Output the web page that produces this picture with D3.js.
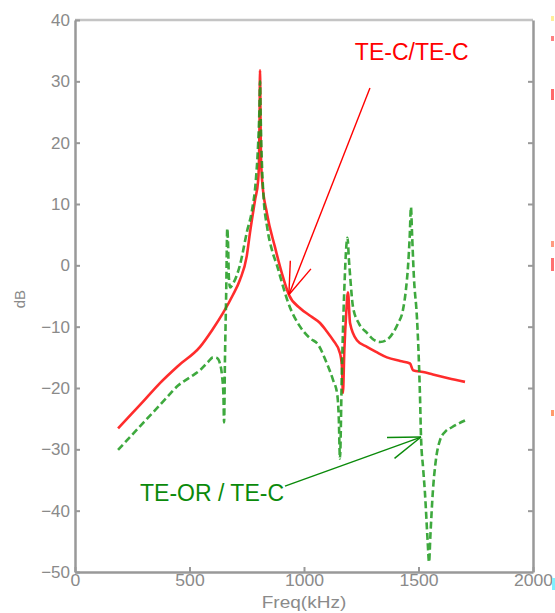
<!DOCTYPE html>
<html>
<head>
<meta charset="utf-8">
<script src="https://cdn.jsdelivr.net/npm/d3@7"></script>
<style>
  html, body { margin: 0; padding: 0; background: #fff; }
  svg { display: block; }
  text { font-family: "Liberation Sans", Arial, sans-serif; }
</style>
</head>
<body>
<svg id="chart" width="555" height="613"></svg>
<script>
// ---------- data ----------
const xTicks = [0, 500, 1000, 1500, 2000];
const yTicks = [-50, -40, -30, -20, -10, 0, 10, 20, 30, 40];

// TE-C/TE-C (red, solid)
const redFreq = [188, 250, 300, 371, 450, 546, 600, 646, 690, 720, 750, 764, 786, 800, 804, 806, 808, 810, 812, 817, 838, 873, 905, 934, 983, 1030, 1070, 1100, 1127, 1157, 1166, 1170, 1176, 1184, 1192, 1201, 1231, 1275, 1319, 1362, 1420, 1463, 1476, 1520, 1563, 1630, 1703];
const redDb   = [-26.6, -24.1, -22.1, -19.2, -16.4, -13.3, -10.5, -7.8, -4.8, -2.4, 1.5, 5.3, 10.6, 13.9, 18, 24, 31.8, 24, 18, 13.9, 8.5, 3, -1.5, -4.8, -7, -8.3, -9.4, -10.8, -12.2, -14.3, -16.6, -20.8, -14, -8, -4.4, -9.4, -12.2, -13.3, -14.2, -15, -15.6, -16, -17.1, -17.4, -17.8, -18.4, -19];

// TE-OR / TE-C (green, dashed)
const greenFreq = [188, 250, 300, 350, 402, 450, 500, 546, 580, 603, 620, 633, 642, 648, 651, 655, 660, 665, 668, 672, 677, 690, 720, 751, 773, 790, 800, 805, 808, 811, 815, 822, 840, 860, 882, 905, 930, 983, 1030, 1057, 1100, 1127, 1145, 1152, 1157, 1165, 1175, 1190, 1196, 1202, 1214, 1240, 1275, 1300, 1332, 1360, 1389, 1410, 1432, 1445, 1454, 1462, 1467, 1472, 1480, 1493, 1500, 1507, 1511, 1520, 1528, 1540, 1546, 1552, 1563, 1575, 1594, 1620, 1646, 1675, 1703];
const greenDb   = [-30.1, -27.6, -25.6, -23.6, -21.5, -19.6, -18.3, -17.1, -15.8, -15, -15.1, -16, -18, -21, -25.6, -15, -5, 6, 4, -2, -3.6, -3, 0, 5.5, 9, 14, 20, 25, 30, 24, 18, 12, 6, 2.5, 0, -3, -6, -10, -12, -12.7, -16, -18.7, -21, -25, -31.5, -18, -5, 4.5, 1, -2, -6.8, -9.5, -11, -12, -12.5, -12.2, -11, -9.5, -7.3, -4, -0.3, 5, 9.5, 5, -2, -8.4, -14, -22, -28, -33, -37, -45, -48.4, -44, -36.7, -32, -28.5, -27, -26.4, -25.8, -25.3];

// annotations
const annLabels = ["TE-C/TE-C", "TE-OR / TE-C"];
const annText   = [[1222, 33.5], [284, -38.4]];
const annFrom   = [[1288, 28.9], [917, -36]];
const annTo     = [[934, -4.8], [1511, -28]];
const annColors = ["#ff0000", "#0a8a0a"];

// ---------- chart ----------
const svg = d3.select("#chart");
const margin = {left: 75, right: 22, top: 20, bottom: 41};
const W = 555, H = 613;
const x = d3.scaleLinear().domain([0, 2000]).range([margin.left, W - margin.right]);
const y = d3.scaleLinear().domain([-50, 40]).range([H - margin.bottom, margin.top]);

const axisColor = "#999";
const labelColor = "#8a8a8a";

// top frame line
svg.append("line").attr("x1", x(0)).attr("x2", x(2000)).attr("y1", y(40)).attr("y2", y(40))
  .attr("stroke", "#c4c4c4").attr("stroke-width", 2.5);

const fmt = d3.format("d");
// left axis
const gy = svg.append("g").attr("transform", `translate(${x(0)},0)`)
  .call(d3.axisLeft(y).tickValues(yTicks).tickFormat(fmt).tickSize(-5).tickSizeOuter(0).tickPadding(4));
// right axis (ticks only)
const gy2 = svg.append("g").attr("transform", `translate(${x(2000)},0)`)
  .call(d3.axisRight(y).tickValues(yTicks.filter(d => d > -50 && d < 40)).tickSize(-5).tickSizeOuter(0).tickFormat(""));
// bottom axis
const gx = svg.append("g").attr("transform", `translate(0,${y(-50)})`)
  .call(d3.axisBottom(x).tickValues(xTicks).tickFormat(fmt).tickSize(-5).tickSizeOuter(0).tickPadding(4));

[gy, gy2, gx].forEach(g => {
  g.select(".domain").attr("stroke", axisColor).attr("stroke-width", 2.5);
  g.selectAll(".tick line").attr("stroke", axisColor).attr("stroke-width", 2);
  g.selectAll(".tick text").attr("fill", labelColor)
    .style("font-size", "16px").style("font-family", "'Liberation Sans', Arial, sans-serif");
});
gy.selectAll(".tick text").attr("dx", "-1").style("font-size", "17px");
gx.selectAll(".tick text").attr("dy", "0.6em")
  .attr("transform", function() { return "scale(1.1,1)"; });

// axis titles
svg.append("text").attr("x", x(1000)).attr("y", 608).attr("text-anchor", "middle")
  .attr("fill", labelColor).style("font-size", "17px").text("Freq(kHz)")
  .attr("transform", `translate(${x(1000)},0) scale(1.12,1) translate(${-x(1000)},0)`);
svg.append("text").attr("transform", `translate(25,${y(-5.5)}) rotate(-90)`)
  .attr("text-anchor", "middle").attr("fill", labelColor).style("font-size", "15px").text("dB");

// curves
const line = d3.line().x(d => x(d[0])).y(d => y(d[1])).curve(d3.curveMonotoneX);
const redPts = redFreq.map((f, i) => [f, redDb[i]]);
const greenPts = greenFreq.map((f, i) => [f, greenDb[i]]);

svg.append("path").datum(redPts).attr("d", line)
  .attr("fill", "none").attr("stroke", "#ff1a1a").attr("stroke-width", 2.6)
  .attr("stroke-linejoin", "round").attr("opacity", 0.92);
svg.append("path").datum(greenPts).attr("d", line)
  .attr("fill", "none").attr("stroke", "#1c9a1c").attr("stroke-width", 2.6)
  .attr("stroke-dasharray", "7,3.5").attr("opacity", 0.85);

// annotations
annLabels.forEach((lab, i) => {
  const c = annColors[i];
  svg.append("text").attr("x", x(annText[i][0])).attr("y", y(annText[i][1]))
    .attr("fill", c).style("font-size", "23px").text(lab);
  const x1 = x(annFrom[i][0]), y1 = y(annFrom[i][1]);
  const x2 = x(annTo[i][0]), y2 = y(annTo[i][1]);
  svg.append("line").attr("x1", x1).attr("y1", y1).attr("x2", x2).attr("y2", y2)
    .attr("stroke", c).attr("stroke-width", 1.4);
  const ang = Math.atan2(y1 - y2, x1 - x2);
  const hl = 34, ha = 19 * Math.PI / 180;
  [-ha, ha].forEach(a => {
    svg.append("line").attr("x1", x2).attr("y1", y2)
      .attr("x2", x2 + hl * Math.cos(ang + a)).attr("y2", y2 + hl * Math.sin(ang + a))
      .attr("stroke", c).attr("stroke-width", 1.4);
  });
});

// stray colour fragments at the right edge of the picture
const fragY = [16, 36, 89, 241, 258, 410];
const fragH = [5, 5, 11, 6, 13, 6];
const fragC = ["#ffee99", "#ff8080", "#ff6a6a", "#ff9a80", "#ff7070", "#ff9a6a"];
fragY.forEach((fy, i) => {
  svg.append("rect").attr("x", 551).attr("y", fy).attr("width", 3).attr("height", fragH[i])
    .attr("fill", fragC[i]);
});
svg.append("rect").attr("x", 552).attr("y", 578).attr("width", 3).attr("height", 12).attr("fill", "#7ff0ff");
</script>
</body>
</html>
